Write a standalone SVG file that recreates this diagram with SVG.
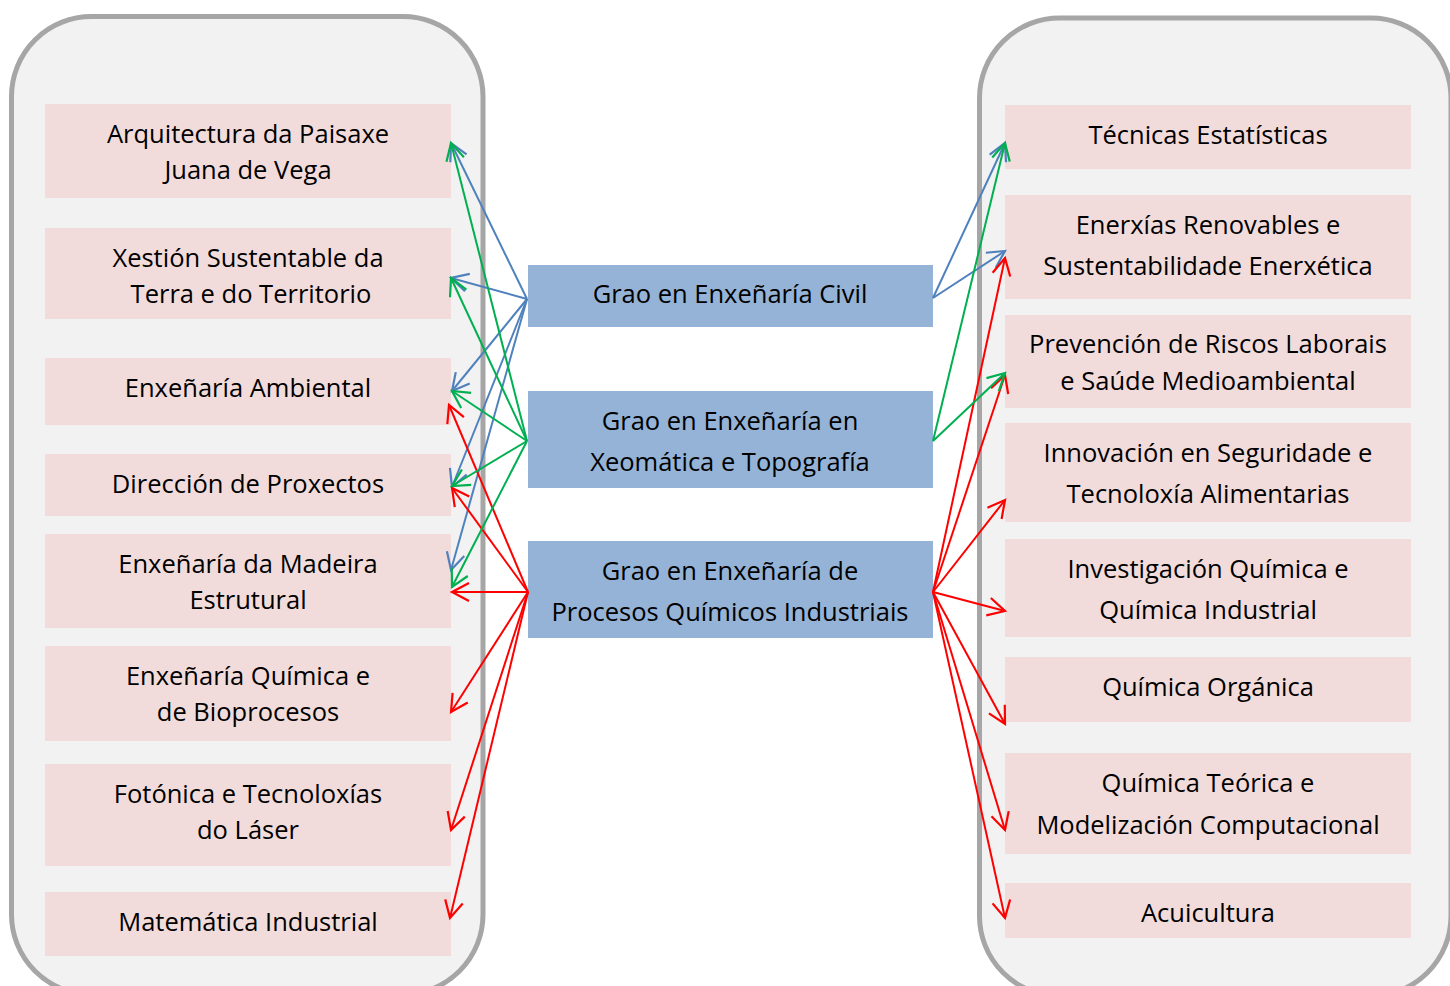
<svg xmlns="http://www.w3.org/2000/svg" width="1450" height="986" viewBox="0 0 1450 986">
<defs>
<style>
.panel{fill:#f2f2f2;stroke:#a6a6a6;stroke-width:5}
.pk{fill:#f2dcdb}
.bl{fill:#95b3d7}
text{font-family:"Open Sans","Noto Sans",sans-serif;font-size:25.5px;fill:#000;text-anchor:middle}
.cb{stroke:#4f81bd;stroke-width:2;fill:none;marker-end:url(#hb)}
.cg{stroke:#00b050;stroke-width:2;fill:none;marker-end:url(#hg)}
.cr{stroke:#ff0000;stroke-width:2;fill:none;marker-end:url(#hr)}
</style>
<marker id="hb" markerUnits="userSpaceOnUse" viewBox="-20 -12 24 24" refX="0" refY="0" markerWidth="24" markerHeight="24" orient="auto" overflow="visible"><path d="M-17,-9 L0,0 L-17,9" fill="none" stroke="#4f81bd" stroke-width="2.2"/></marker>
<marker id="hg" markerUnits="userSpaceOnUse" viewBox="-20 -12 24 24" refX="0" refY="0" markerWidth="24" markerHeight="24" orient="auto" overflow="visible"><path d="M-17,-9 L0,0 L-17,9" fill="none" stroke="#00b050" stroke-width="2.2"/></marker>
<marker id="hr" markerUnits="userSpaceOnUse" viewBox="-20 -12 24 24" refX="0" refY="0" markerWidth="24" markerHeight="24" orient="auto" overflow="visible"><path d="M-17,-9 L0,0 L-17,9" fill="none" stroke="#ff0000" stroke-width="2.2"/></marker>
</defs>
<rect width="1450" height="986" fill="#fff"/>
<g id="panel-left"><rect class="panel" x="11.5" y="16.5" width="471.5" height="978" rx="80" ry="80"/></g>
<g id="panel-right"><rect class="panel" x="979.5" y="18" width="471.5" height="978" rx="80" ry="80"/></g>

<g id="l1"><rect class="pk" x="45" y="104" width="406" height="94"/><text x="248" y="143">Arquitectura da Paisaxe</text><text x="248" y="179">Juana de Vega</text></g>
<g id="l2"><rect class="pk" x="45" y="228" width="406" height="91"/><text x="248" y="267">Xestión Sustentable da</text><text x="251" y="303">Terra e do Territorio</text></g>
<g id="l3"><rect class="pk" x="45" y="358" width="406" height="67"/><text x="248" y="397">Enxeñaría Ambiental</text></g>
<g id="l4"><rect class="pk" x="45" y="454" width="406" height="62"/><text x="248" y="493">Dirección de Proxectos</text></g>
<g id="l5"><rect class="pk" x="45" y="534" width="406" height="94"/><text x="248" y="573">Enxeñaría da Madeira</text><text x="248" y="609">Estrutural</text></g>
<g id="l6"><rect class="pk" x="45" y="646" width="406" height="95"/><text x="248" y="685">Enxeñaría Química e</text><text x="248" y="721">de Bioprocesos</text></g>
<g id="l7"><rect class="pk" x="45" y="764" width="406" height="102"/><text x="248" y="803">Fotónica e Tecnoloxías</text><text x="248" y="839">do Láser</text></g>
<g id="l8"><rect class="pk" x="45" y="892" width="406" height="64"/><text x="248" y="931">Matemática Industrial</text></g>

<g id="c1"><rect class="bl" x="528" y="265" width="405" height="62"/><text x="730" y="303">Grao en Enxeñaría Civil</text></g>
<g id="c2"><rect class="bl" x="528" y="391" width="405" height="97"/><text x="730" y="430">Grao en Enxeñaría en</text><text x="730" y="471">Xeomática e Topografía</text></g>
<g id="c3"><rect class="bl" x="528" y="541" width="405" height="97"/><text x="730" y="580">Grao en Enxeñaría de</text><text x="730" y="621">Procesos Químicos Industriais</text></g>

<g id="r1"><rect class="pk" x="1005" y="105" width="406" height="64"/><text x="1208" y="144">Técnicas Estatísticas</text></g>
<g id="r2"><rect class="pk" x="1005" y="195" width="406" height="104"/><text x="1208" y="234">Enerxías Renovables e</text><text x="1208" y="275">Sustentabilidade Enerxética</text></g>
<g id="r3"><rect class="pk" x="1005" y="315" width="406" height="93"/><text x="1208" y="353">Prevención de Riscos Laborais</text><text x="1208" y="390">e Saúde Medioambiental</text></g>
<g id="r4"><rect class="pk" x="1005" y="423" width="406" height="99"/><text x="1208" y="462">Innovación en Seguridade e</text><text x="1208" y="503">Tecnoloxía Alimentarias</text></g>
<g id="r5"><rect class="pk" x="1005" y="539" width="406" height="98"/><text x="1208" y="578">Investigación Química e</text><text x="1208" y="619">Química Industrial</text></g>
<g id="r6"><rect class="pk" x="1005" y="657" width="406" height="65"/><text x="1208" y="696">Química Orgánica</text></g>
<g id="r7"><rect class="pk" x="1005" y="753" width="406" height="101"/><text x="1208" y="792">Química Teórica e</text><text x="1208" y="834">Modelización Computacional</text></g>
<g id="r8"><rect class="pk" x="1005" y="883" width="406" height="55"/><text x="1208" y="922">Acuicultura</text></g>

<g id="connectors">
<line class="cb" x1="527" y1="299" x2="451" y2="143"/>
<line class="cb" x1="527" y1="299" x2="451" y2="278"/>
<line class="cb" x1="527" y1="299" x2="452" y2="391"/>
<line class="cb" x1="527" y1="299" x2="452" y2="487"/>
<line class="cb" x1="527" y1="299" x2="451" y2="570"/>
<line class="cb" x1="933" y1="298" x2="1005" y2="143"/>
<line class="cb" x1="933" y1="298" x2="1005" y2="251"/>
<line class="cr" x1="528" y1="592" x2="449" y2="405"/>
<line class="cr" x1="528" y1="592" x2="452" y2="488"/>
<line class="cr" x1="528" y1="592" x2="452" y2="592"/>
<line class="cr" x1="528" y1="592" x2="451" y2="712"/>
<line class="cr" x1="528" y1="592" x2="451" y2="830"/>
<line class="cr" x1="528" y1="592" x2="450" y2="918"/>
<line class="cr" x1="933" y1="592" x2="1005" y2="258"/>
<line class="cr" x1="933" y1="592" x2="1005" y2="375"/>
<line class="cr" x1="933" y1="592" x2="1005" y2="500"/>
<line class="cr" x1="933" y1="592" x2="1005" y2="611"/>
<line class="cr" x1="933" y1="592" x2="1005" y2="724"/>
<line class="cr" x1="933" y1="592" x2="1005" y2="830"/>
<line class="cr" x1="933" y1="592" x2="1005" y2="918"/>
<line class="cg" x1="527" y1="441" x2="451" y2="143"/>
<line class="cg" x1="527" y1="441" x2="451" y2="278"/>
<line class="cg" x1="527" y1="441" x2="452" y2="391"/>
<line class="cg" x1="527" y1="441" x2="452" y2="486"/>
<line class="cg" x1="527" y1="441" x2="452" y2="587"/>
<line class="cg" x1="933" y1="441" x2="1005" y2="143"/>
<line class="cg" x1="933" y1="441" x2="1005" y2="373"/>
</g>
</svg>
